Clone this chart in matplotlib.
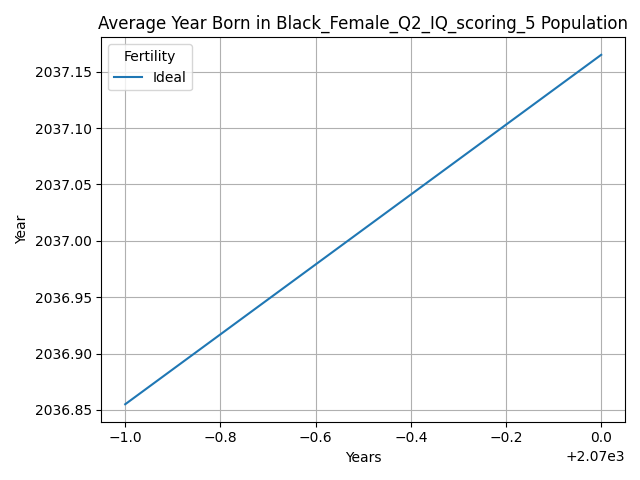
import matplotlib
matplotlib.use("Agg")
import matplotlib.pyplot as plt

years = [2069, 2070]
avg_born = [2036.855, 2037.165]

fig, ax = plt.subplots(figsize=(6.4, 4.8), dpi=100)
ax.plot(years, avg_born, label="Ideal")
ax.set_title("Average Year Born in Black_Female_Q2_IQ_scoring_5 Population")
ax.set_xlabel("Years")
ax.set_ylabel("Year")
ax.legend(title="Fertility", loc="upper left")
ax.grid(True)
fig.tight_layout()
fig.savefig("out.png")
